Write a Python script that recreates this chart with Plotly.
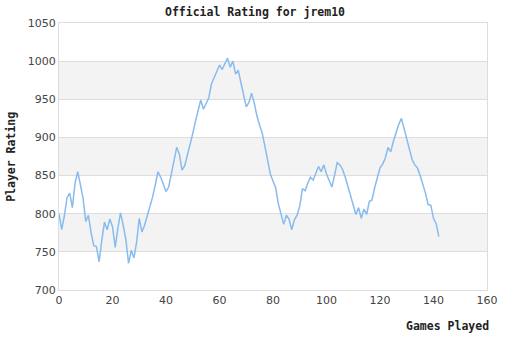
import plotly.graph_objects as go

# Rating after each game played
games = list(range(143))
rating = [
    800, 779, 797, 821, 827, 808, 840, 855, 838, 820,
    790, 798, 775, 758, 757, 737, 765, 789, 779, 793,
    783, 756, 781, 801, 785, 766, 735, 752, 742, 762,
    794, 776, 785, 797, 810, 822, 838, 855, 848, 838,
    829, 835, 852, 868, 887, 878, 857, 863, 876, 890,
    905, 921, 935, 949, 937, 944, 952, 970, 978, 986,
    995, 989, 996, 1004, 992, 1000, 983, 988, 972, 955,
    940, 946, 958, 945, 928, 916, 905, 888, 870, 852,
    843, 834, 813, 800, 786, 798, 793, 779, 792, 798,
    810, 833, 830, 840, 848, 844, 853, 862, 855, 864,
    852, 843, 835, 850, 867, 864, 858, 848, 835, 822,
    811, 799, 808, 794, 806, 799, 816, 818, 834, 848,
    860, 865, 873, 887, 881, 895, 907, 917, 925, 912,
    899, 885, 871, 864, 860, 850, 840, 827, 812, 811,
    794, 787, 770,
]

x_ticks = [0, 20, 40, 60, 80, 100, 120, 140, 160]
y_ticks = [700, 750, 800, 850, 900, 950, 1000, 1050]
shaded_bands = [(750, 800), (850, 900), (950, 1000)]

mono = "DejaVu Sans Mono"

fig = go.Figure()
fig.add_trace(go.Scatter(
    x=games, y=rating, mode="lines",
    line=dict(color="#88bbee", width=1.5),
    hoverinfo="x+y", showlegend=False,
))

for lo, hi in shaded_bands:
    fig.add_shape(type="rect", xref="x", yref="y", x0=0, x1=160, y0=lo, y1=hi,
                  fillcolor="#f3f3f3", line=dict(width=0), layer="below")

fig.update_layout(
    width=510, height=340,
    margin=dict(l=59, r=20, t=23, b=50),
    paper_bgcolor="white", plot_bgcolor="white",
    title=dict(text="<b>Official Rating for jrem10</b>", x=0.5, xref="container",
               xanchor="center", y=1 - 12 / 340, yanchor="middle",
               font=dict(family=mono, size=11.5, color="#222")),
    font=dict(family="DejaVu Sans", size=11, color="#444"),
)

fig.update_xaxes(
    range=[0, 160], tickvals=x_ticks, showgrid=False, zeroline=False,
    showline=True, linecolor="#dddddd", linewidth=1, mirror=True,
    ticks="", tickfont=dict(size=11, color="#444"),
)
fig.update_yaxes(
    range=[700, 1050], tickvals=y_ticks, showgrid=True, gridcolor="#dddddd",
    gridwidth=1, zeroline=False, showline=True, linecolor="#dddddd",
    linewidth=1, mirror=True, ticks="", tickfont=dict(size=11, color="#444"),
)

fig.add_annotation(text="<b>Games Played</b>", xref="paper", yref="paper",
                   x=1 + 4 / 431, y=-36 / 267, xanchor="right", yanchor="middle",
                   showarrow=False, font=dict(family=mono, size=11.5, color="#222"))
fig.add_annotation(text="<b>Player Rating</b>", xref="paper", yref="paper",
                   x=-49 / 431, y=0.5, xanchor="center", yanchor="middle",
                   textangle=-90, showarrow=False,
                   font=dict(family=mono, size=11.5, color="#222"))

fig.write_html("out.html")
